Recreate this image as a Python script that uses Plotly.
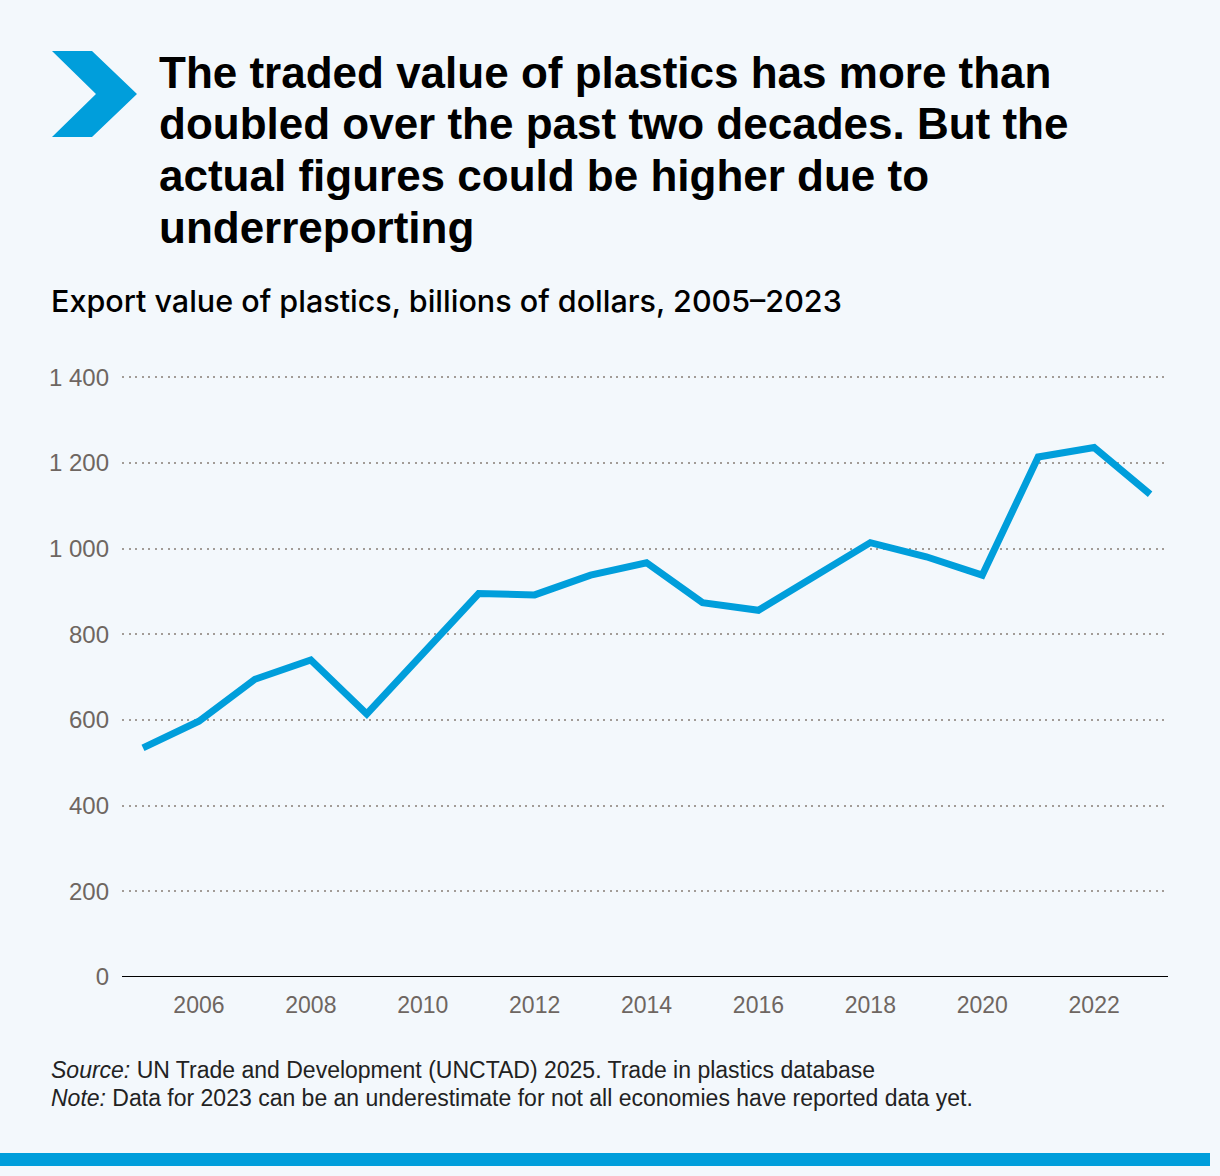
import plotly.graph_objects as go

years = list(range(2005, 2024))
export_values = [535, 597, 695, 740, 614, 752, 895, 892, 938, 967,
                 874, 856, 937, 1014, 981, 938, 1214, 1236, 1127]
x_tick_vals = [2006, 2008, 2010, 2012, 2014, 2016, 2018, 2020, 2022]
x_tick_labels = [str(v) for v in x_tick_vals]
y_tick_vals = [0, 200, 400, 600, 800, 1000, 1200, 1400]
y_tick_labels = ["0", "200", "400", "600", "800", "1 000", "1 200", "1 400"]

title_lines = [
    "The traded value of plastics has more than",
    "doubled over the past two decades. But the",
    "actual figures could be higher due to",
    "underreporting",
]
subtitle = "Export value of plastics, billions of dollars, 2005–2023"
source_line = "<i>Source:</i> UN Trade and Development (UNCTAD) 2025. Trade in plastics database"
note_line = "<i>Note:</i> Data for 2023 can be an underestimate for not all economies have reported data yet."

W, H = 1220, 1176
Y_MAX = 1410
L, R, B = 122, 1168, 977
T = round(B - Y_MAX * 600 / 1400)
BG = "#F3F8FC"
BLUE = "#009EDB"
TICK = "#6E6661"
SANS = "Liberation Sans, Arial, Helvetica, sans-serif"


def px(x):
    return (x - L) / (R - L)


def py(y):
    return (B - y) / (B - T)


fig = go.Figure()
fig.add_trace(go.Scatter(
    x=years, y=export_values, mode="lines",
    line=dict(color=BLUE, width=7, shape="linear"),
    hoverinfo="skip", showlegend=False,
))

fig.update_layout(
    width=W, height=H,
    margin=dict(l=L, r=W - R, t=T, b=H - B, pad=0),
    paper_bgcolor=BG, plot_bgcolor=BG,
    showlegend=False,
    font=dict(family=SANS, color="#000"),
)
fig.update_xaxes(
    range=[2004.625, 2023.32], tickvals=x_tick_vals, ticktext=x_tick_labels,
    showgrid=False, zeroline=False, showline=False, ticks="",
    tickfont=dict(family=SANS, size=23, color=TICK),
    ticklabelstandoff=12, fixedrange=True,
)
fig.update_yaxes(
    range=[0, Y_MAX], tickvals=y_tick_vals, ticktext=y_tick_labels,
    showgrid=True, gridcolor="#A29C97", gridwidth=2, griddash="2px,4.5px",
    zeroline=False, showline=False, ticks="",
    tickfont=dict(family=SANS, size=24, color=TICK),
    ticklabelstandoff=12, fixedrange=True,
)

shapes = []
# zero baseline
shapes.append(dict(type="line", xref="paper", yref="y", x0=0, x1=1, y0=0, y1=0,
                   line=dict(color="#000", width=2), layer="above"))
# chevron
pts = [(52, 51), (92, 51), (137, 94), (92, 137), (52, 137), (96, 94)]
path = "M " + " L ".join(f"{px(a):.5f},{py(b):.5f}" for a, b in pts) + " Z"
shapes.append(dict(type="path", xref="paper", yref="paper", path=path,
                   fillcolor=BLUE, line=dict(width=0)))
# bottom bar
shapes.append(dict(type="rect", xref="paper", yref="paper",
                   x0=px(0), x1=px(1210), y0=py(1153), y1=py(1166),
                   fillcolor=BLUE, line=dict(width=0)))
fig.update_layout(shapes=shapes)

ann = []
title_centers = [72, 124, 176, 228]
for line, yc in zip(title_lines, title_centers):
    ann.append(dict(text=f"<b>{line}</b>", xref="paper", yref="paper",
                    x=px(157), y=py(yc), xanchor="left", yanchor="middle",
                    showarrow=False, align="left",
                    font=dict(size=44, color="#000", family=SANS)))
ann.append(dict(text=subtitle, xref="paper", yref="paper",
                x=px(49), y=py(300), xanchor="left", yanchor="middle",
                showarrow=False, align="left",
                font=dict(size=30.5, color="#000", family="Inter, Open Sans, " + SANS, weight=500)))
for text, yc in [(source_line, 1070), (note_line, 1098)]:
    ann.append(dict(text=text, xref="paper", yref="paper",
                    x=px(49), y=py(yc), xanchor="left", yanchor="middle",
                    showarrow=False, align="left",
                    font=dict(size=23, color="#222", family=SANS)))
fig.update_layout(annotations=ann)

fig.write_html("out.html", config={"displayModeBar": False},
               post_script="document.body.style.margin='0';document.body.style.background='" + BG + "';")
